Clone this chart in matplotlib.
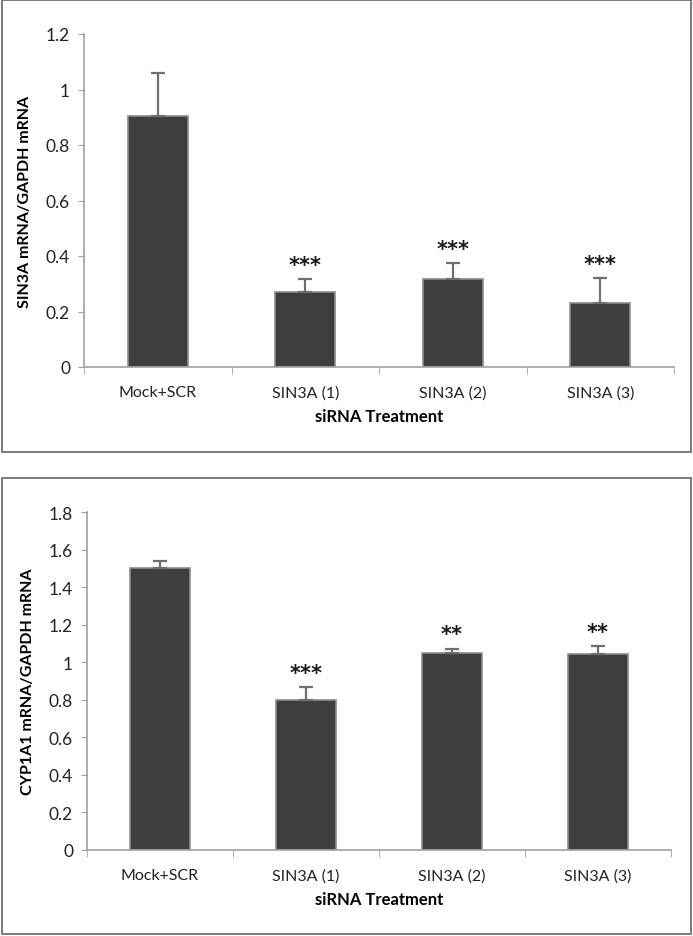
import matplotlib
matplotlib.use("Agg")
import matplotlib.pyplot as plt
from matplotlib.patches import Rectangle

categories = ["Mock+SCR", "SIN3A (1)", "SIN3A (2)", "SIN3A (3)"]

# top panel: SIN3A knockdown
sin3a_mean = [0.905, 0.27, 0.317, 0.23]
sin3a_err = [0.155, 0.047, 0.058, 0.09]
sin3a_stars = ["", "***", "***", "***"]

# bottom panel: CYP1A1 expression
cyp1a1_mean = [1.502, 0.80, 1.048, 1.043]
cyp1a1_err = [0.038, 0.068, 0.025, 0.045]
cyp1a1_stars = ["", "***", "**", "**"]

plt.rcParams['font.family'] = ['Lato', 'DejaVu Sans']

fig = plt.figure(figsize=(6.93, 9.37), dpi=100)
W, H = 693, 937

def px(x0, y0, x1, y1):
    # pixel box (top-left origin) -> figure fraction [l, b, w, h]
    return [x0 / W, 1 - y1 / H, (x1 - x0) / W, (y1 - y0) / H]

# panel frames
for box in [(2, 1, 691, 453), (2, 479, 691, 935)]:
    l, b, w, h = px(*box)
    fig.patches.append(Rectangle((l, b), w, h, transform=fig.transFigure,
                                 fill=False, edgecolor='#707070', linewidth=1.3))


def draw_panel(rect, means, errs, stars, ymax, ylabel):
    ax = fig.add_axes(px(*rect))
    x = range(len(categories))
    ax.bar(x, means, width=0.41, color='#3e3e3e', edgecolor='#8c8c8c',
           linewidth=1.2, zorder=2)
    ax.errorbar(x, means, yerr=[[0] * len(errs), errs], fmt='none',
                ecolor='#6e6e6e', elinewidth=1.6, capsize=5, capthick=1.6,
                zorder=3)
    for i, s in enumerate(stars):
        if s:
            ax.text(i, means[i] + errs[i] + ymax * 0.012, s, ha='center',
                    va='bottom', fontsize=15, fontweight='bold',
                    family='DejaVu Sans', color='#1a1a1a')
    ax.set_xlim(-0.5, len(categories) - 0.5)
    ax.set_ylim(0, ymax)
    ax.set_yticks([round(v * 0.2, 1) for v in range(int(round(ymax / 0.2)) + 1)])
    ax.set_yticklabels([f"{v * 0.2:g}" if v else "0"
                        for v in range(int(round(ymax / 0.2)) + 1)])
    ax.set_xticks(list(x))
    ax.set_xticklabels(categories)
    ax.set_xticks([i - 0.5 for i in range(len(categories) + 1)], minor=True)
    ax.tick_params(axis='x', which='major', length=0, pad=13, labelsize=11.5,
                   colors='#222222')
    ax.tick_params(axis='x', which='minor', length=5, color='#a0a0a0')
    ax.tick_params(axis='y', length=4, color='#a0a0a0', labelsize=12.5,
                   labelcolor='#222222', pad=6)
    for side in ['top', 'right']:
        ax.spines[side].set_visible(False)
    for side in ['left', 'bottom']:
        ax.spines[side].set_color('#a0a0a0')
        ax.spines[side].set_linewidth(1.2)
    ax.set_xlabel("siRNA Treatment", fontsize=12, fontweight='bold', labelpad=6)
    ax.set_ylabel(ylabel, fontsize=11.5, fontweight='bold', labelpad=10)
    return ax


draw_panel((84, 35, 674, 368), sin3a_mean, sin3a_err, sin3a_stars, 1.2,
           "SIN3A mRNA/GAPDH mRNA")
draw_panel((87, 513, 671, 851), cyp1a1_mean, cyp1a1_err, cyp1a1_stars, 1.8,
           "CYP1A1 mRNA/GAPDH mRNA")

fig.savefig("out.png", dpi=100)
